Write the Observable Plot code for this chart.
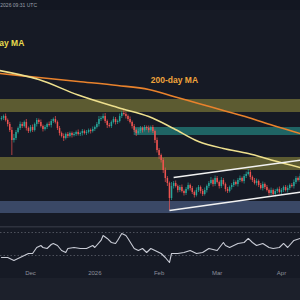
<!DOCTYPE html>
<html><head><meta charset="utf-8">
<script src="https://cdn.jsdelivr.net/npm/d3@7"></script>
<script src="https://cdn.jsdelivr.net/npm/@observablehq/plot@0.6"></script>
<style>
html,body{margin:0;padding:0;background:#161a25;width:300px;height:300px;overflow:hidden;font-family:"Liberation Sans",Arial,sans-serif}
#top{height:10px;background:#131722;color:#9aa0ab;font-size:5px;line-height:10px;position:relative;overflow:hidden}
#top span{position:absolute;right:263px;top:0;white-space:nowrap}
#main,#rsi{overflow:hidden}
#footer{height:22px;background:#1c202b}
svg{display:block}
</style></head><body>
<div id="top"><span>Apr 10, 2026 09:31 UTC</span></div>
<div id="main"></div>
<div id="rsi"></div>
<div id="footer"></div>
<script>
// ---------- data (prices in thousands USD, one candle per day) ----------
const firstDay = "2025-11-17";
const firstOpen = 92.4;
const closes = [
 92.8, 93.6, 92.0, 90.4, 88.0, 84.0, 84.8, 87.2, 88.8, 90.4,
 89.6, 91.2, 88.8, 87.6, 89.2, 88.0, 90.4, 92.0, 91.2, 89.6,
 88.4, 89.2, 90.4, 90.0, 91.6, 92.4, 91.2, 88.8, 86.8, 85.6,
 84.8, 86.4, 85.6, 86.8, 86.0, 86.4, 87.2, 86.4, 86.8, 87.6,
 86.8, 87.2, 88.0, 87.6, 88.4, 89.2, 90.4, 92.4, 92.8, 93.6,
 91.6, 90.0, 89.6, 91.2, 92.4, 91.2, 91.6, 93.6, 94.8, 94.4,
 93.6, 92.4, 91.2, 89.6, 88.0, 86.8, 87.6, 88.8, 88.0, 89.2,
 88.8, 88.0, 89.2, 87.6, 84.0, 80.0, 78.0, 76.0, 72.0, 68.8,
 66.8, 60.8, 65.6, 66.8, 65.6, 64.0, 65.2, 63.6, 62.8, 64.4,
 66.0, 64.8, 63.2, 62.0, 64.0, 65.2, 63.6, 62.4, 64.0, 65.6,
 66.8, 68.0, 66.4, 68.8, 67.2, 65.6, 68.0, 66.4, 64.4, 63.6,
 65.2, 66.0, 67.2, 66.4, 68.0, 68.8, 67.6, 69.6, 70.4, 71.2,
 69.2, 68.0, 66.8, 67.6, 66.0, 64.8, 66.4, 65.2, 64.0, 62.8,
 64.0, 62.4, 63.6, 64.4, 63.2, 64.0, 65.2, 64.0, 64.8, 66.0,
 65.6, 67.2, 68.8, 68.0, 69.6];
const upperWick = [
 0.8,0.6,1.0,0.6,0.8,1.2,1.6,0.8,0.6,1.0,
 0.8,0.6,1.2,0.6,0.8,1.0,0.6,0.8,0.6,1.0,
 0.6,0.8,0.6,1.0,0.8,0.6,1.2,0.6,0.8,0.6,
 1.0,0.6,0.8,0.6,0.6,0.8,0.6,1.0,0.6,0.8,
 0.6,0.8,0.6,0.6,1.0,0.6,0.8,1.2,0.8,1.0,
 1.2,0.6,0.8,0.6,1.0,0.8,0.6,1.0,0.8,1.2,
 0.8,0.6,1.0,0.6,0.8,0.6,1.0,0.8,0.6,0.8,
 0.6,1.0,0.6,0.8,0.6,1.0,0.8,0.6,0.8,1.0,
 0.8,0.6,1.6,0.8,1.0,0.6,0.8,1.0,0.6,0.8,
 1.0,0.6,0.8,0.6,1.0,0.8,0.6,0.8,1.0,0.6,
 0.8,1.2,0.6,1.0,0.8,0.6,1.2,0.8,0.6,0.8,
 0.6,0.8,1.0,0.6,0.8,1.0,0.6,0.8,1.0,1.2,
 0.8,0.6,0.8,1.0,0.6,0.8,1.0,0.6,0.8,0.6,
 1.0,0.6,0.8,0.6,1.0,0.8,0.6,0.8,1.0,0.6,
 0.8,1.0,0.8,0.6,1.0];
const lowerWick = [
 0.6,0.8,0.6,1.0,0.8,6.0,1.0,0.8,0.6,0.8,
 0.8,0.6,1.0,0.8,0.6,0.8,0.6,1.0,0.8,0.6,
 1.0,0.6,0.8,0.6,1.0,0.8,0.6,0.8,1.0,0.6,
 1.2,0.6,0.8,0.6,1.0,0.6,0.8,0.6,0.8,1.0,
 0.6,0.8,0.6,1.0,0.6,0.8,0.6,1.0,0.8,0.6,
 0.8,1.2,0.6,0.8,0.6,1.0,0.8,0.6,0.8,0.6,
 1.0,0.8,0.6,1.0,0.8,1.2,0.6,0.8,1.0,0.6,
 0.8,1.0,0.6,0.8,1.2,1.0,1.6,1.0,1.2,1.6,
 1.2,4.8,0.8,1.0,0.6,1.0,0.8,0.6,1.0,0.8,
 0.6,1.0,0.8,1.0,0.6,0.8,1.0,0.8,0.6,1.0,
 0.8,0.6,1.0,0.8,0.6,1.0,0.8,0.6,1.0,0.8,
 0.6,1.0,0.8,0.6,1.0,0.8,0.6,1.0,0.8,0.6,
 1.0,0.8,0.6,1.0,0.8,0.6,1.0,0.8,0.6,1.0,
 0.8,0.6,1.0,0.8,0.6,1.0,0.8,0.6,1.0,0.8,
 0.6,1.0,0.8,0.6,0.8];

// moving averages, read at sample days (offset from firstDay)
const maDays = [-1, 18, 37, 56, 71, 83, 95, 107, 119, 131, 144];
const ma200  = [110.8, 109.2, 107.6, 106.0, 104.4, 101.6, 98.8, 96.0, 93.2, 90.0, 86.8];
const ma100  = [112.0, 108.4, 102.2, 97.2, 93.6, 88.8, 83.6, 80.8, 78.8, 76.0, 73.2];

// horizontal zones
const zoneTop      = [100.4, 89.2, 77.2, 59.6];
const zoneBottom   = [95.2, 86.0, 72.0, 54.8];
const zoneStartDay = [-2, 64, -2, -2];

// rising channel (top, bottom)
const chanStartDay   = [83, 81];
const chanEndDay     = [145, 145];
const chanStartPrice = [69.2, 56.0];
const chanEndPrice   = [76.2, 63.4];

// labels
const labelText  = ["100-day MA", "200-day MA"];
const labelDay   = [11, 72];
const labelPrice = [122.8, 108.0];

// RSI
const rsiDays = [0,3,6,9,13,15,16,17,19,20,22,24,25,27,29,31,32,35,38,41,44,45,48,49,51,53,55,56,58,60,61,64,66,68,70,72,74,77,79,81,82,85,88,91,94,97,100,104,107,108,110,114,117,119,121,123,126,129,131,134,136,138,141,144];
const rsiVals = [26.5,26.5,21.3,26.5,33.5,33.5,38.7,43.9,47.4,43.9,42.2,49.1,50.9,47.4,38.7,35.2,42.2,43.9,42.2,42.2,47.4,43.9,56.1,64.8,59.6,52.6,50.9,56.1,68.3,64.8,59.6,42.2,38.7,42.2,35.2,42.2,38.7,33.5,26.5,17.8,33.5,33.5,35.2,38.7,33.5,35.2,42.2,38.7,52.6,47.4,43.9,50.9,52.6,59.6,52.6,47.4,50.9,43.9,42.2,43.9,50.9,43.9,56.1,59.6];
const rsiLevels = [70, 30];

const tickDates  = ["2025-12-01", "2026-01-01", "2026-02-01", "2026-03-01", "2026-04-01"];
const tickLabels = ["Dec", "2026", "Feb", "Mar", "Apr"];

// ---------- build ----------
const t0 = Date.parse(firstDay);
const day = i => new Date(t0 + i * 864e5);
const xDomain = [new Date(Date.UTC(2025, 10, 16, 12, 46)), new Date(Date.UTC(2026, 3, 10, 4, 19))];

const candles = closes.map((c, i) => {
  const o = i ? closes[i - 1] : firstOpen;
  return {date: day(i), open: o, close: c, high: Math.max(o, c) + upperWick[i], low: Math.min(o, c) - lowerWick[i]};
});
const upC = candles.filter(d => d.close >= d.open);
const dnC = candles.filter(d => d.close < d.open);
const UP = "#26a69a", DN = "#ef5350";

const maA = maDays.map((d, i) => ({date: day(d), v: ma200[i]}));
const maB = maDays.map((d, i) => ({date: day(d), v: ma100[i]}));
const zones = zoneTop.map((t, i) => ({x1: day(zoneStartDay[i]), x2: day(146), y1: zoneBottom[i], y2: t}));
const zoneFill = ["#5c5b31", "#1f6464", "#5c5b31", "#3a4866"];
const chans = chanStartDay.map((d, i) => ({x1: day(d), x2: day(chanEndDay[i]), y1: chanStartPrice[i], y2: chanEndPrice[i]}));
const labels = labelText.map((t, i) => ({text: t, date: day(labelDay[i]), p: labelPrice[i]}));
const rsi = rsiDays.map((d, i) => ({date: day(d), v: rsiVals[i]}));

const font = '"Liberation Sans", Arial, sans-serif';

const main = Plot.plot({
  width: 300, height: 216, margin: 0,
  x: {type: "utc", domain: xDomain, axis: null},
  y: {domain: [49.6, 136], axis: null},
  style: {background: "#161a25", fontFamily: font},
  marks: [
    ...zones.map((z, i) => Plot.rect([z], {x1: "x1", x2: "x2", y1: "y1", y2: "y2", fill: zoneFill[i], clip: "frame"})),
    Plot.line(maA, {x: "date", y: "v", stroke: "#e9822c", strokeWidth: 1.6, curve: "catmull-rom", clip: "frame"}),
    Plot.line(maB, {x: "date", y: "v", stroke: "#eee08e", strokeWidth: 1.5, curve: "catmull-rom", clip: "frame"}),
    Plot.ruleX(upC, {x: "date", y1: "low", y2: "high", stroke: UP, strokeWidth: 0.7}),
    Plot.ruleX(dnC, {x: "date", y1: "low", y2: "high", stroke: DN, strokeWidth: 0.7}),
    Plot.ruleX(upC, {x: "date", y1: "open", y2: "close", stroke: UP, strokeWidth: 1.5}),
    Plot.ruleX(dnC, {x: "date", y1: "open", y2: "close", stroke: DN, strokeWidth: 1.5}),
    Plot.link(chans, {x1: "x1", x2: "x2", y1: "y1", y2: "y2", stroke: "#f2f2f2", strokeWidth: 1.4, clip: "frame"}),
    Plot.text([labels[0]], {x: "date", y: "p", text: "text", fill: "#e8da4e", fontSize: 8.5, fontWeight: "bold", textAnchor: "end"}),
    Plot.text([labels[1]], {x: "date", y: "p", text: "text", fill: "#f0a43c", fontSize: 8.5, fontWeight: "bold", textAnchor: "start"})
  ]
});
document.getElementById("main").appendChild(main);

const tickMap = new Map(tickDates.map((d, i) => [Date.parse(d), tickLabels[i]]));
const rsiPlot = Plot.plot({
  width: 300, height: 52, marginTop: 0, marginBottom: 13, marginLeft: 0, marginRight: 0,
  x: {type: "utc", domain: xDomain, axis: null},
  y: {domain: [12.6, 80.43], axis: null},
  style: {background: "#161a25", fontFamily: font},
  marks: [
    Plot.frame({anchor: "top", stroke: "#2e323e", strokeWidth: 2}),
    Plot.ruleY(rsiLevels, {stroke: "#5d616c", strokeWidth: 0.8, strokeDasharray: "1.5,2"}),
    Plot.line(rsi, {x: "date", y: "v", stroke: "#c9ccd6", strokeWidth: 1.1}),
    Plot.axisX(tickDates.map(d => new Date(d)), {tickFormat: d => tickMap.get(+d), tickSize: 0, tickPadding: 5, fontSize: 6, fill: "#8c909b"})
  ]
});
document.getElementById("rsi").appendChild(rsiPlot);
</script></body></html>
